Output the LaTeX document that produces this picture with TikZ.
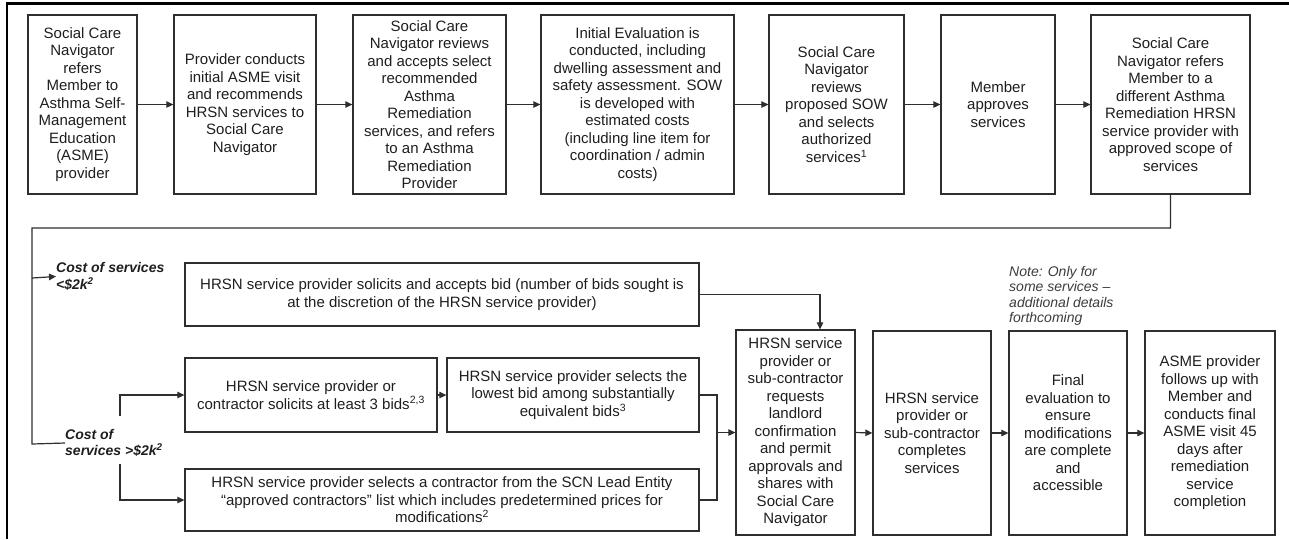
\documentclass[tikz,border=0pt]{standalone}
\usepackage{fontspec}
\setmainfont{Liberation Sans}
\usetikzlibrary{arrows.meta}
\definecolor{ink}{HTML}{1E1E1E}
\definecolor{edge}{HTML}{2E2E2E}
\definecolor{notegray}{HTML}{3C3C3C}
\begin{document}
\begin{tikzpicture}[x=1pt,y=-1pt,
  box/.style={draw=edge,line width=1.3pt,inner sep=0pt,align=center,text=ink,
    font=\fontsize{15}{17.5}\selectfont},
  conn/.style={draw=edge,line width=1.2pt},
  arr/.style={conn,-{Triangle[length=7pt,width=6.5pt]}},
  branch/.style={inner sep=0pt,align=left,text=ink,
    font=\fontsize{14}{16.5}\selectfont\bfseries\itshape},
  note/.style={inner sep=0pt,align=left,text=notegray,
    font=\fontsize{14}{15.5}\selectfont\itshape}]
\useasboundingbox (0,0) rectangle (1289,539);
% frame edges
\draw[line width=2.5pt,black] (7,539) -- (7,3.5) -- (1289,3.5);

% top row of steps
\node[box,minimum width=109,minimum height=179] (b1) at (82.5,104.5)
  {Social Care\\Navigator\\refers\\Member to\\Asthma Self-\\Management\\Education\\(ASME)\\provider};
\node[box,minimum width=142,minimum height=179] (b2) at (245,104.5)
  {Provider conducts\\initial ASME visit\\and recommends\\HRSN services to\\Social Care\\Navigator};
\node[box,minimum width=153,minimum height=179] (b3) at (429.5,104.5)
  {Social Care\\Navigator reviews\\and accepts select\\recommended\\Asthma\\Remediation\\services, and refers\\to an Asthma\\Remediation\\Provider};
\node[box,minimum width=193,minimum height=179] (b4) at (637.5,104.5)
  {Initial Evaluation is\\conducted, including\\dwelling assessment and\\safety assessment. SOW\\is developed with\\estimated costs\\(including line item for\\coordination / admin\\costs)};
\node[box,minimum width=135,minimum height=179] (b5) at (836.5,104.5)
  {Social Care\\Navigator\\reviews\\proposed SOW\\and selects\\authorized\\services\textsuperscript{1}};
\node[box,minimum width=114,minimum height=179] (b6) at (998,104.5)
  {Member\\approves\\services};
\node[box,minimum width=159,minimum height=179] (b7) at (1170.5,104.5)
  {Social Care\\Navigator refers\\Member to a\\different Asthma\\Remediation HRSN\\service provider with\\approved scope of\\services};

\foreach \a/\b in {b1/b2,b2/b3,b3/b4,b4/b5,b5/b6,b6/b7}
  \draw[arr] (\a.east) -- (\b.west);

% cost branches
\node[branch,anchor=west] (lo) at (56,276.5) {Cost of services\\<\$2k\textsuperscript{2}};
\node[branch,anchor=west] (hi) at (65,443) {Cost of\\services >\$2k\textsuperscript{2}};

\node[box,minimum width=514,minimum height=63] (A) at (442,294.5)
  {HRSN service provider solicits and accepts bid (number of bids sought is\\at the discretion of the HRSN service provider)};
\node[box,minimum width=252,minimum height=74] (B) at (311,395)
  {HRSN service provider or\\contractor solicits at least 3 bids\textsuperscript{2,3}};
\node[box,minimum width=252,minimum height=74] (C) at (573,395)
  {HRSN service provider selects the\\lowest bid among substantially\\equivalent bids\textsuperscript{3}};
\node[box,minimum width=514,minimum height=62] (E) at (442,500)
  {HRSN service provider selects a contractor from the SCN Lead Entity\\“approved contractors” list which includes predetermined prices for\\modifications\textsuperscript{2}};

% bottom row of steps
\node[box,minimum width=119,minimum height=205] (D) at (795.5,432.5)
  {HRSN service\\provider or\\sub-contractor\\requests\\landlord\\confirmation\\and permit\\approvals and\\shares with\\Social Care\\Navigator};
\node[box,minimum width=118,minimum height=204] (F) at (932,433)
  {HRSN service\\provider or\\sub-contractor\\completes\\services};
\node[box,minimum width=118,minimum height=204] (G) at (1068,433)
  {Final\\evaluation to\\ensure\\modifications\\are complete\\and\\accessible};
\node[box,minimum width=130,minimum height=204] (H) at (1210,433)
  {ASME provider\\follows up with\\Member and\\conducts final\\ASME visit 45\\days after\\remediation\\service\\completion};
\node[note,anchor=south west] (nt) at (1009,326)
  {Note: Only for\\some services –\\additional details\\forthcoming};

% return line from the top row
\coordinate (rt) at (32,228);
\coordinate (lbr) at (32,278);
\coordinate (lft) at (32,444);
\draw[conn] (b7.south) |- (rt) -- (lft) -- (hi.west);
\draw[arr] (lbr) -- (lo.west);

% over $2k: two routes
\coordinate (up) at (120,416);
\coordinate (dn) at (120,464);
\draw[arr] (up) |- (B.west);
\draw[arr] (dn) |- (E.west);
\draw[arr] (B.east) -- (C.east -| C.west);

% joining into the request step
\coordinate (jn) at (717,432.5);
\draw[conn] (C.east) -| (jn);
\draw[conn] (E.east) -| (jn);
\draw[arr] (jn) -- (D.west);
\draw[arr] (A.east) -| ([xshift=24.5pt]D.north);

\draw[arr] (D.east) -- (F.west);
\draw[arr] (F.east) -- (G.west);
\draw[arr] (G.east) -- (H.west);
\end{tikzpicture}
\end{document}
